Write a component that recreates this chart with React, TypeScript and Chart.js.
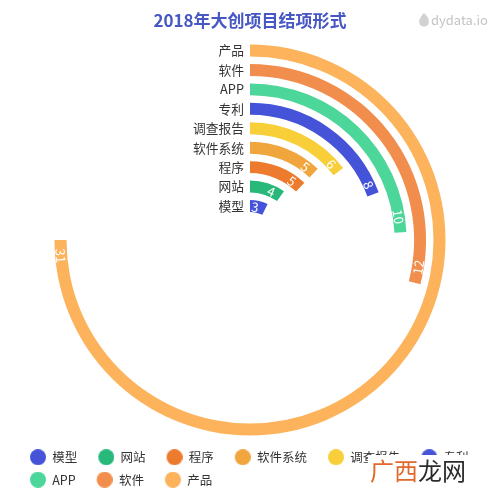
import React, { useEffect, useRef } from 'react';
import { Chart, registerables } from 'chart.js';

Chart.register(...registerables);

const TITLE = '2018年大创项目结项形式';
const categories = ['模型', '网站', '程序', '软件系统', '调查报告', '专利', 'APP', '软件', '产品'];
const values = [3, 4, 5, 5, 6, 8, 10, 12, 31];
const colors = ['#4553d8', '#27b87a', '#ec7b2d', '#f0a53d', '#f8cf38', '#4553d8', '#4dd699', '#f28e4d', '#fdb35b'];
const ANGLE_MAX = 41.33;

const FONT = '"Noto Sans CJK SC", "Noto Sans", sans-serif';
const BAR_W = 12;
const GAP_W = 7.44;
const OUTER_R = 195.5;
const INNER_R = 28;

function makeDot(color: string): HTMLCanvasElement {
  const c = document.createElement('canvas');
  c.width = 27;
  c.height = 16;
  const g = c.getContext('2d')!;
  g.fillStyle = color;
  g.beginPath();
  g.arc(19, 8, 8, 0, Math.PI * 2);
  g.fill();
  return c;
}

const labelPlugin = {
  id: 'radialLabels',
  afterDatasetsDraw(chart: any) {
    const ctx = chart.ctx;
    chart.data.datasets.forEach((ds: any, di: number) => {
      if (ds.spacer) return;
      const meta = chart.getDatasetMeta(di);
      const arc = meta.data[0];
      const { x, y, innerRadius, outerRadius, endAngle } = arc.getProps(
        ['x', 'y', 'innerRadius', 'outerRadius', 'endAngle'],
        true
      );
      const r = (innerRadius + outerRadius) / 2;
      ctx.save();
      ctx.font = `12.75px ${FONT}`;
      ctx.fillStyle = '#333';
      ctx.textAlign = 'right';
      ctx.textBaseline = 'middle';
      ctx.fillText(categories[ds.catIndex], x - 6, y - r);

      const text = String(ds.data[0]);
      ctx.font = `13px ${FONT}`;
      const w = ctx.measureText(text).width;
      const a = endAngle - (0.75 * w + 5) / r;
      const px = x + r * Math.cos(a);
      const py = y + r * Math.sin(a);
      let rot = a + Math.PI / 2;
      while (rot > Math.PI / 2 + 1e-3) rot -= Math.PI;
      while (rot <= -Math.PI / 2) rot += Math.PI;
      ctx.translate(px, py);
      ctx.rotate(rot);
      ctx.fillStyle = '#ffffff';
      ctx.textAlign = 'center';
      ctx.textBaseline = 'middle';
      ctx.fillText(text, 0, 0.5);
      ctx.restore();
    });
  },
};

const watermarkPlugin = {
  id: 'watermarks',
  afterDraw(chart: any) {
    const ctx = chart.ctx;
    ctx.save();
    ctx.fillStyle = '#d2d2d2';
    ctx.beginPath();
    ctx.moveTo(424, 13);
    ctx.quadraticCurveTo(431, 19, 428, 25);
    ctx.quadraticCurveTo(424, 28, 420, 25);
    ctx.quadraticCurveTo(417, 20, 424, 13);
    ctx.fill();
    ctx.font = `13px ${FONT}`;
    ctx.fillStyle = '#c4c4c4';
    ctx.textAlign = 'left';
    ctx.textBaseline = 'middle';
    ctx.fillText('dydata.io', 431, 20);
    ctx.fillStyle = '#ffffff';
    ctx.fillRect(368, 455, 100, 32);
    ctx.font = `24px ${FONT}`;
    ctx.textBaseline = 'middle';
    ctx.fillStyle = '#e2692b';
    ctx.fillText('广西', 370, 471);
    const w = ctx.measureText('广西').width;
    ctx.fillStyle = '#2b2b2b';
    ctx.fillText('龙网', 370 + w, 471);
    ctx.restore();
  },
};

export default function App() {
  const ref = useRef<HTMLCanvasElement | null>(null);

  useEffect(() => {
    if (!ref.current) return;
    const datasets: any[] = [];
    for (let i = categories.length - 1; i >= 0; i--) {
      datasets.push({
        label: categories[i],
        catIndex: i,
        data: [values[i], ANGLE_MAX - values[i]],
        backgroundColor: [colors[i], 'rgba(0,0,0,0)'],
        borderWidth: 0,
        hoverOffset: 0,
        weight: BAR_W,
      });
      if (i > 0) {
        datasets.push({
          spacer: true,
          data: [1],
          backgroundColor: ['rgba(0,0,0,0)'],
          borderWidth: 0,
          hoverOffset: 0,
          weight: GAP_W,
        });
      }
    }
    const dots = colors.map(makeDot);
    const chart = new Chart(ref.current, {
      type: 'doughnut',
      data: { labels: ['value', 'rest'], datasets },
      options: {
        responsive: false,
        animation: false,
        events: [],
        radius: OUTER_R,
        cutout: `${(INNER_R / OUTER_R) * 100}%`,
        layout: { padding: { top: 0, left: 9, right: 9, bottom: 4 } },
        plugins: {
          title: {
            display: true,
            text: TITLE,
            color: '#4757c4',
            font: { size: 17, weight: 'bold', family: FONT },
            padding: { top: 10, bottom: 8.6 },
          },
          legend: {
            display: true,
            position: 'bottom',
            align: 'start',
            onClick: () => {},
            labels: {
              usePointStyle: true,
              pointStyleWidth: 27,
              padding: 10,
              color: '#333',
              font: { size: 12.5, family: FONT },
              generateLabels: () =>
                categories.map((c, i) => ({
                  text: c,
                  fillStyle: colors[i],
                  strokeStyle: colors[i],
                  lineWidth: 0,
                  pointStyle: dots[i],
                  hidden: false,
                  index: i,
                  fontColor: '#333',
                })),
            },
          },
          tooltip: { enabled: false },
        },
      } as any,
      plugins: [labelPlugin, watermarkPlugin],
    });
    return () => chart.destroy();
  }, []);

  return (
    <div style={{ position: 'fixed', left: 0, top: 0, width: 500, height: 500, background: '#fff' }}>
      <canvas ref={ref} width={500} height={500} />
    </div>
  );
}
